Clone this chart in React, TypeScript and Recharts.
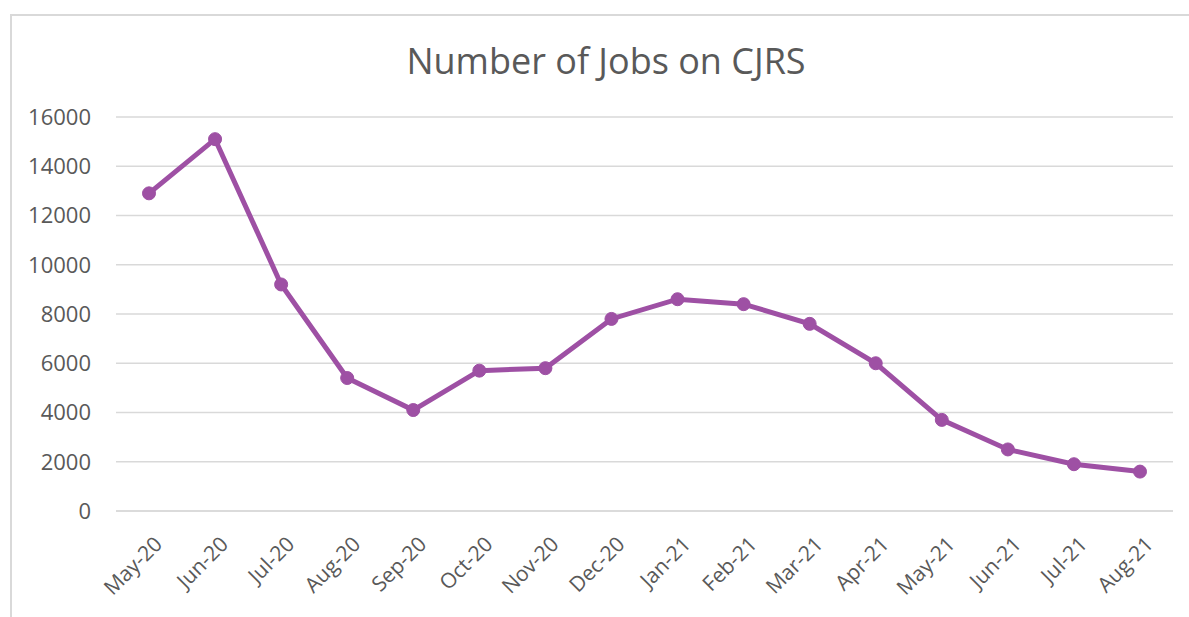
import React from "react";
import { LineChart, Line, XAxis, YAxis, CartesianGrid } from "recharts";

const months = [
  "May-20", "Jun-20", "Jul-20", "Aug-20", "Sep-20", "Oct-20", "Nov-20", "Dec-20",
  "Jan-21", "Feb-21", "Mar-21", "Apr-21", "May-21", "Jun-21", "Jul-21", "Aug-21",
];
const jobs = [
  12900, 15100, 9200, 5400, 4100, 5700, 5800, 7800,
  8600, 8400, 7600, 6000, 3700, 2500, 1900, 1600,
];
const yTicks = [0, 2000, 4000, 6000, 8000, 10000, 12000, 14000, 16000];

const data = months.map((m, i) => ({ month: m, jobs: jobs[i] }));

const FONT = "'Open Sans', 'Noto Sans', sans-serif";
const TEXT = "#595959";
const GRID = "#d9d9d9";
const PURPLE = "#9E50A4";

export default function App() {
  return (
    <div style={{
      position: "fixed",
      left: 0,
      top: 0,
      width: 1189,
      height: 617,
      overflow: "hidden",
      background: "#fff",
      fontFamily: FONT,
    }}>
      <div style={{
        position: "absolute",
        left: 10,
        top: 14,
        width: 1200,
        height: 640,
        border: `2px solid ${GRID}`,
        boxSizing: "border-box",
      }} />
      <div style={{
        position: "absolute",
        left: 0,
        top: 37,
        width: 1212,
        textAlign: "center",
        fontSize: 36,
        color: TEXT,
        lineHeight: "48px",
      }}>
        Number of Jobs on CJRS
      </div>
      <div style={{ position: "absolute", left: 0, top: 0 }}>
        <LineChart
          width={1189}
          height={617}
          data={data}
          margin={{ top: 117, right: 16, bottom: 0, left: 0 }}
        >
          <CartesianGrid vertical={false} stroke={GRID} strokeWidth={1.5} />
          <XAxis
            dataKey="month"
            height={106}
            axisLine={{ stroke: GRID, strokeWidth: 1.5 }}
            tickLine={false}
            interval={0}
            padding={{ left: 33, right: 33 }}
            angle={-45}
            textAnchor="end"
            tickSize={0}
            tickMargin={24}
            tick={{ fill: TEXT, fontSize: 21, fontFamily: FONT, dx: 4 }}
          />
          <YAxis
            width={116}
            domain={[0, 16000]}
            ticks={yTicks}
            axisLine={false}
            tickLine={false}
            tickSize={0}
            tickMargin={25}
            tick={{ fill: TEXT, fontSize: 22, fontFamily: FONT }}
          />
          <Line
            type="linear"
            dataKey="jobs"
            stroke={PURPLE}
            strokeWidth={5}
            dot={{ r: 6.5, fill: PURPLE, stroke: PURPLE, strokeWidth: 1 }}
            isAnimationActive={false}
          />
        </LineChart>
      </div>
    </div>
  );
}
